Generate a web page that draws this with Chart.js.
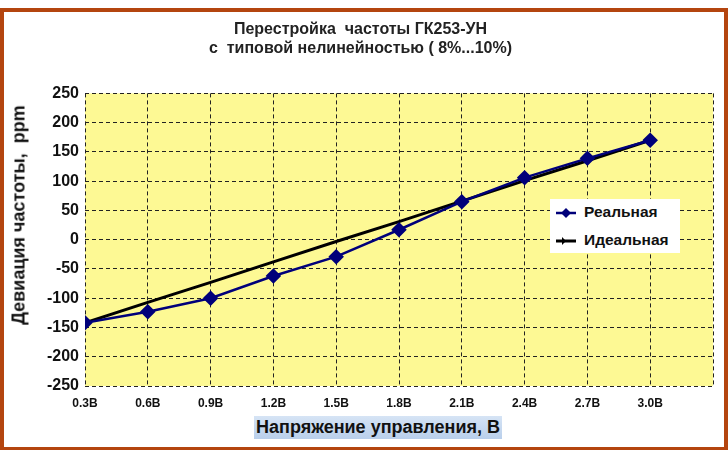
<!DOCTYPE html>
<html>
<head>
<meta charset="utf-8">
<script src="https://cdn.jsdelivr.net/npm/chart.js@4"></script>
<style>
  html, body { margin: 0; padding: 0; background: #fff; }
  #wrap { position: relative; width: 728px; height: 450px; overflow: hidden; font-family: "Liberation Sans", Arial, sans-serif; }
  #frame { position: absolute; left: 0; top: 8px; width: 720px; height: 435px; border: 4px solid #b4450f; }
  #chart { position: absolute; left: 0; top: 0; }
  #yTitle { position: absolute; left: 19px; top: 215px; transform: translate(-50%, -50%) rotate(-90deg); white-space: nowrap; font-weight: bold; font-size: 18px; color: #111; }
  #xTitle { position: absolute; left: 254px; top: 416px; padding: 1px 2px; white-space: nowrap; font-weight: bold; font-size: 18px; color: #111; background: linear-gradient(#d6e4f5, #b9cfeb); }
  #legend { position: absolute; left: 550px; top: 199px; width: 130px; height: 54px; background: #fff; font-weight: bold; font-size: 15.5px; color: #111; }
  #legend div { position: absolute; left: 6px; height: 18px; line-height: 18px; white-space: nowrap; }
  #legend svg { vertical-align: middle; margin-right: 8px; }
</style>
</head>
<body>
<div id="wrap">
  <div id="frame"></div>
  <canvas id="chart" width="728" height="450"></canvas>
  <div id="yTitle">Девиация частоты,&nbsp; ppm</div>
  <div id="xTitle">Напряжение управления, В</div>
  <div id="legend">
    <div style="top:4px"><svg width="20" height="12"><line x1="0" y1="6" x2="20" y2="6" stroke="#00007a" stroke-width="2.5"/><polygon points="10,1 15,6 10,11 5,6" fill="#00007a"/></svg>Реальная</div>
    <div style="top:32px"><svg width="20" height="12"><line x1="0" y1="6" x2="20" y2="6" stroke="#000" stroke-width="3"/><polygon points="6,2 10,6 6,10" fill="#000"/></svg>Идеальная</div>
  </div>
</div>
<script>
'use strict';

const VOLTAGES = [0.3, 0.6, 0.9, 1.2, 1.5, 1.8, 2.1, 2.4, 2.7, 3.0];
const REAL = [-142, -123, -100, -62, -29, 17, 65, 106, 139, 170];
const IDEAL = [-142, -107, -73, -38, -3, 31, 66, 101, 135, 170];
const TITLE_LINES = ['Перестройка  частоты ГК253-УН', 'с  типовой нелинейностью ( 8%...10%)'];

const FONT = '"Liberation Sans", Arial, sans-serif';

const plotBackground = {
  id: 'plotBackground',
  beforeDraw(chart) {
    const { ctx, chartArea: a } = chart;
    ctx.save();
    ctx.fillStyle = '#fdf994';
    ctx.fillRect(a.left, a.top, a.right - a.left, a.bottom - a.top);
    ctx.restore();
  }
};

const toPoints = values => values.map((v, i) => ({ x: VOLTAGES[i], y: v }));
const gridStyle = { color: '#222', lineWidth: 1, drawTicks: false };
const dashedBorder = { display: false, dash: [4, 3] };

new Chart(document.getElementById('chart'), {
  type: 'line',
  data: {
    datasets: [
      {
        label: 'Реальная',
        data: toPoints(REAL),
        borderColor: '#00007a',
        backgroundColor: '#00007a',
        borderWidth: 2.5,
        pointStyle: 'rectRot',
        pointRadius: 6,
        pointHoverRadius: 6,
        tension: 0
      },
      {
        label: 'Идеальная',
        data: toPoints(IDEAL),
        borderColor: '#000',
        backgroundColor: '#000',
        borderWidth: 3,
        pointRadius: 0,
        tension: 0
      }
    ]
  },
  options: {
    responsive: false,
    animation: false,
    layout: { padding: { top: 0, right: 15, bottom: 0, left: 8 } },
    plugins: {
      legend: { display: false },
      tooltip: { enabled: false },
      title: {
        display: true,
        text: TITLE_LINES,
        color: '#222',
        font: { family: FONT, size: 16, weight: 'bold', lineHeight: 1.2 },
        padding: { top: 20, bottom: 35 }
      }
    },
    scales: {
      x: {
        type: 'linear',
        min: 0.3,
        max: 3.3,
        grid: gridStyle,
        border: dashedBorder,
        afterFit: scale => { scale.height = 64; },
        ticks: {
          stepSize: 0.3,
          padding: 10,
          color: '#111',
          font: { family: FONT, size: 12, weight: 'bold' },
          callback: value => value > 3.05 ? '' : value.toFixed(1) + 'В'
        }
      },
      y: {
        min: -250,
        max: 250,
        grid: gridStyle,
        border: dashedBorder,
        afterFit: scale => { scale.width = 77; },
        ticks: {
          stepSize: 50,
          padding: 6,
          color: '#111',
          font: { family: FONT, size: 16, weight: 'bold' }
        }
      }
    }
  },
  plugins: [plotBackground]
});
</script>
</body>
</html>
